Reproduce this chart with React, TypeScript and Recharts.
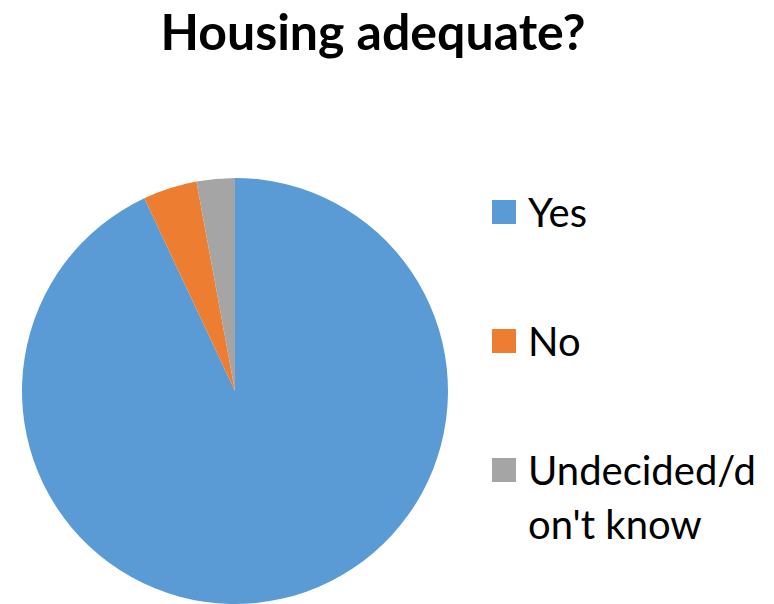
import React from "react";
import { PieChart, Pie, Cell } from "recharts";

// Housing adequate? survey answers (share of respondents, %)
const categories = ["Yes", "No", "Undecided/don't know"];
const values = [93, 4.1, 2.9];
const COLORS = ["#5b9bd5", "#ed7d31", "#a5a5a5"];

const data = categories.map((name, i) => ({ name, value: values[i] }));

const FONT = "Lato, 'Open Sans', sans-serif";

function ChartLegend() {
  return (
    <div style={{ position: "absolute", left: 492, top: 185, width: 280, fontFamily: FONT }}>
      {data.map((entry, i) => (
        <div
          key={`legend-${i}`}
          style={{
            position: "absolute",
            left: 0,
            top: i * 129,
            display: "flex",
            alignItems: "flex-start",
          }}
        >
          <div
            style={{
              width: 24,
              height: 24,
              background: COLORS[i % COLORS.length],
              marginTop: 15,
              flexShrink: 0,
            }}
          />
          <div
            style={{
              marginLeft: 12,
              width: 238,
              fontSize: 40,
              lineHeight: "54px",
              color: "#000",
              wordBreak: "break-all",
            }}
          >
            {entry.name}
          </div>
        </div>
      ))}
    </div>
  );
}

export default function App() {
  return (
    <div
      style={{
        position: "absolute",
        left: 0,
        top: 0,
        width: 774,
        height: 604,
        background: "#fff",
        overflow: "hidden",
      }}
    >
      <div
        style={{
          position: "absolute",
          left: -14,
          top: 1,
          width: 774,
          textAlign: "center",
          fontFamily: FONT,
          fontWeight: 700,
          fontSize: 50,
          lineHeight: "60px",
          color: "#000",
          zIndex: 1,
        }}
      >
        Housing adequate?
      </div>
      <PieChart width={774} height={604} margin={{ top: 0, right: 0, bottom: 0, left: 0 }}>
        <Pie
          data={data}
          dataKey="value"
          nameKey="name"
          cx={235}
          cy={391}
          outerRadius={213}
          startAngle={90}
          endAngle={-270}
          stroke="none"
          isAnimationActive={false}
        >
          {data.map((entry, index) => (
            <Cell key={`cell-${index}`} fill={COLORS[index % COLORS.length]} />
          ))}
        </Pie>
      </PieChart>
      <ChartLegend />
    </div>
  );
}
